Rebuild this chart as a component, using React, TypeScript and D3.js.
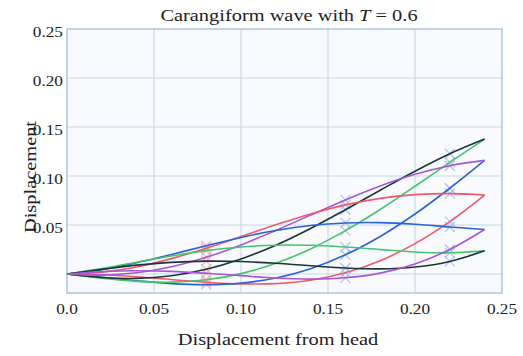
import React, { useEffect, useRef } from 'react';
import * as d3 from 'd3';

// positions along the body (x axis)
const bodyX = [0, 0.02, 0.04, 0.06, 0.08, 0.1, 0.12, 0.14, 0.16, 0.18, 0.2, 0.22, 0.24];

// lateral displacement of each snapshot, t = 0 ... 0.54
const wave0 = [0, -0.0007, -0.0028, -0.0056, -0.0084, -0.0101, -0.0098, -0.0064, 0.0012, 0.0135, 0.031, 0.0535, 0.0806];
const wave1 = [0, -0.0033, -0.0069, -0.0098, -0.0109, -0.0093, -0.0041, 0.0054, 0.0196, 0.0383, 0.0612, 0.0875, 0.1159];
const wave2 = [0, -0.0044, -0.0075, -0.0083, -0.0059, 0.0004, 0.0109, 0.0256, 0.0442, 0.0658, 0.0895, 0.1139, 0.1377];
const wave3 = [0, -0.0036, -0.0045, -0.0018, 0.0048, 0.0153, 0.0294, 0.0465, 0.0656, 0.0855, 0.1049, 0.1227, 0.1377];
const wave4 = [0, -0.0012, 0.0012, 0.0074, 0.0171, 0.0297, 0.0444, 0.0601, 0.0756, 0.0898, 0.1017, 0.1105, 0.1159];
const wave5 = [0, 0.0019, 0.0072, 0.0157, 0.0263, 0.0382, 0.0502, 0.0613, 0.0705, 0.0772, 0.081, 0.082, 0.0806];
const wave6 = [0, 0.0044, 0.0114, 0.0199, 0.0288, 0.0373, 0.0444, 0.0495, 0.0521, 0.0524, 0.0508, 0.048, 0.0454];
const wave7 = [0, 0.0055, 0.012, 0.0184, 0.0238, 0.0276, 0.0294, 0.0293, 0.0275, 0.0249, 0.0225, 0.0216, 0.0236];
const wave8 = [0, 0.0047, 0.009, 0.0119, 0.0131, 0.0127, 0.0109, 0.0084, 0.0061, 0.0052, 0.0071, 0.0128, 0.0236];
const wave9 = [0, 0.0023, 0.0033, 0.0027, 0.0008, -0.0017, -0.0041, -0.0052, -0.0039, 0.0009, 0.0103, 0.025, 0.0454];

const waves = [wave0, wave1, wave2, wave3, wave4, wave5, wave6, wave7, wave8, wave9];
const waveColors = ['#ef5a6a', '#2b62d6', '#45c46a', '#173636', '#a855d6'];

// joint markers (index into bodyX)
const jointIdx = [4, 8, 11];

const xTicks = [0, 0.05, 0.1, 0.15, 0.2, 0.25];
const xTickLabels = ['0.0', '0.05', '0.10', '0.15', '0.20', '0.25'];
const yTicks = [0.05, 0.1, 0.15, 0.2, 0.25];
const yTickLabels = ['0.05', '0.10', '0.15', '0.20', '0.25'];

function App() {
    const svgRef = useRef(null);

    useEffect(() => {
        const width = 523;
        const height = 356;
        const left = 67, right = 502, top = 29, bottom = 293;

        const svg = d3.select(svgRef.current);
        svg.selectAll('*').remove();

        const x = d3.scaleLinear().domain([0, 0.25]).range([left, right]);
        const y = d3.scaleLinear().domain([-0.0194, 0.25]).range([bottom, top]);

        svg.append('rect')
            .attr('width', width)
            .attr('height', height)
            .attr('fill', '#fff');

        // plot background
        svg.append('rect')
            .attr('x', left)
            .attr('y', top)
            .attr('width', right - left)
            .attr('height', bottom - top)
            .attr('fill', '#f9fafd');

        // grid
        const grid = svg.append('g').attr('stroke', '#c6d7ea').attr('stroke-width', 1.1);
        grid.selectAll('.vx')
            .data(xTicks.slice(1, -1))
            .enter()
            .append('line')
            .attr('x1', d => x(d))
            .attr('x2', d => x(d))
            .attr('y1', top)
            .attr('y2', bottom);
        grid.selectAll('.hy')
            .data([0, ...yTicks.slice(0, -1)])
            .enter()
            .append('line')
            .attr('x1', left)
            .attr('x2', right)
            .attr('y1', d => y(d))
            .attr('y2', d => y(d));

        // frame
        svg.append('rect')
            .attr('x', left)
            .attr('y', top)
            .attr('width', right - left)
            .attr('height', bottom - top)
            .attr('fill', 'none')
            .attr('stroke', '#a9c2dc')
            .attr('stroke-width', 1.4);

        const line = d3.line()
            .x((d, i) => x(bodyX[i]))
            .y(d => y(d))
            .curve(d3.curveCatmullRom.alpha(0.5));

        // joint markers
        const cross = 5;
        waves.forEach(w => {
            jointIdx.forEach((j, k) => {
                const cx = x(bodyX[j]);
                const cy = y(w[j]);
                const g = svg.append('g')
                    .attr('stroke', k === 0 ? '#f0a6b8' : '#a3b6e8')
                    .attr('stroke-width', 1.2)
                    .attr('opacity', 0.8);
                g.append('line').attr('x1', cx - cross).attr('x2', cx + cross).attr('y1', cy - cross).attr('y2', cy + cross);
                g.append('line').attr('x1', cx - cross).attr('x2', cx + cross).attr('y1', cy + cross).attr('y2', cy - cross);
            });
        });

        svg.append('g')
            .selectAll('path')
            .data(waves)
            .enter()
            .append('path')
            .attr('d', d => line(d))
            .attr('fill', 'none')
            .attr('stroke', (d, i) => waveColors[i % waveColors.length])
            .attr('stroke-width', 1.6);

        const font = "'Liberation Serif', 'Times New Roman', serif";

        // x tick labels
        svg.append('g')
            .selectAll('text')
            .data(xTicks)
            .enter()
            .append('text')
            .attr('transform', d => `translate(${x(d)},314) scale(1.15,1)`)
            .attr('text-anchor', 'middle')
            .attr('font-family', font)
            .attr('font-size', 15)
            .attr('fill', '#222')
            .text((d, i) => xTickLabels[i]);

        // y tick labels
        svg.append('g')
            .selectAll('text')
            .data(yTicks)
            .enter()
            .append('text')
            .attr('transform', d => `translate(63,${y(d) + 8}) scale(1.15,1)`)
            .attr('text-anchor', 'end')
            .attr('font-family', font)
            .attr('font-size', 15)
            .attr('fill', '#222')
            .text((d, i) => yTickLabels[i]);

        // title
        const title = svg.append('text')
            .attr('transform', 'translate(289,20.5) scale(1.2,1)')
            .attr('text-anchor', 'middle')
            .attr('font-family', font)
            .attr('font-size', 17)
            .attr('fill', '#222');
        title.append('tspan').text('Carangiform wave with ');
        title.append('tspan').attr('font-style', 'italic').text('T');
        title.append('tspan').text(' = 0.6');

        svg.append('text')
            .attr('transform', 'translate(278,345) scale(1.2,1)')
            .attr('text-anchor', 'middle')
            .attr('font-family', font)
            .attr('font-size', 17)
            .attr('fill', '#222')
            .text('Displacement from head');

        svg.append('text')
            .attr('transform', 'translate(36,177) rotate(-90) scale(1.2,1)')
            .attr('text-anchor', 'middle')
            .attr('font-family', font)
            .attr('font-size', 17)
            .attr('fill', '#222')
            .text('Displacement');
    }, []);

    return (
        <svg
            ref={svgRef}
            width={523}
            height={356}
            style={{ position: 'absolute', left: 0, top: 0 }}
        />
    );
}

export default App;
